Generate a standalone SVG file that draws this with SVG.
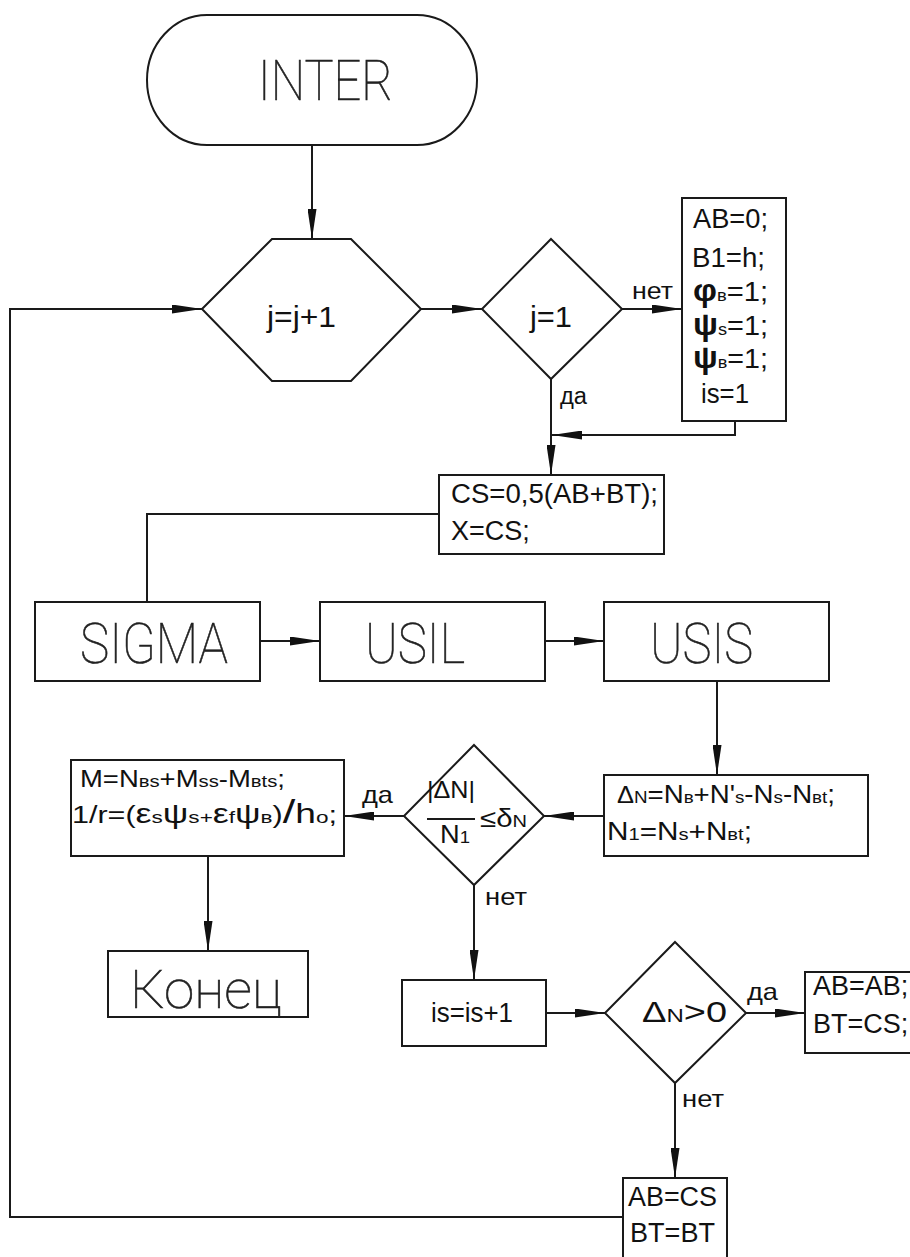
<svg xmlns="http://www.w3.org/2000/svg" width="910" height="1257" viewBox="0 0 910 1257">
  <defs>
    <marker id="arrow" markerUnits="userSpaceOnUse" markerWidth="30" markerHeight="9" refX="30" refY="4.5" orient="auto">
      <path d="M0,0 L30,4.5 L0,9 z" fill="#111"/>
    </marker>
    <style>
      .shape { fill: #fff; stroke: #1a1a1a; stroke-width: 2; }
      .line { fill: none; stroke: #1a1a1a; stroke-width: 2; }
      .arrow { fill: none; stroke: #1a1a1a; stroke-width: 2; marker-end: url(#arrow); }
      .cad { font-family: Roboto, "DejaVu Sans", sans-serif; font-weight: 100; fill: #222; stroke: #222; stroke-width: 0.6; }
      .txt { font-family: "Liberation Sans", Arial, sans-serif; fill: #111; }
      .sub { font-size: 17px; }
    </style>
  </defs>

  <rect width="910" height="1257" fill="#fff"/>

  <!-- connectors -->
  <g id="connectors">
    <path class="arrow" d="M312,145 V239"/>
    <path class="arrow" d="M421,309 H482"/>
    <path class="arrow" d="M622,309 H682"/>
    <path class="arrow" d="M551,379 V475"/>
    <path class="arrow" d="M735,421 V435 H552"/>
    <path class="line" d="M439,514 H147 V602"/>
    <path class="arrow" d="M260,641 H320"/>
    <path class="arrow" d="M545,641 H604"/>
    <path class="arrow" d="M717,681 V775"/>
    <path class="arrow" d="M604,816 H544"/>
    <path class="arrow" d="M404,816 H344"/>
    <path class="arrow" d="M208,856 V951"/>
    <path class="arrow" d="M474,885 V980"/>
    <path class="arrow" d="M546,1013 H605"/>
    <path class="arrow" d="M746,1013 H805"/>
    <path class="arrow" d="M675,1083 V1178"/>
    <path class="arrow" d="M623,1217 H10 V309 H202"/>

    <text class="txt" x="632" y="299" font-size="23" textLength="41" lengthAdjust="spacingAndGlyphs">нет</text>
    <text class="txt" x="560" y="404" font-size="23" textLength="27" lengthAdjust="spacingAndGlyphs">да</text>
    <text class="txt" x="362" y="803" font-size="24" textLength="31" lengthAdjust="spacingAndGlyphs">да</text>
    <text class="txt" x="485" y="905" font-size="23" textLength="42" lengthAdjust="spacingAndGlyphs">нет</text>
    <text class="txt" x="747" y="1000" font-size="24" textLength="31" lengthAdjust="spacingAndGlyphs">да</text>
    <text class="txt" x="682" y="1107" font-size="23" textLength="42" lengthAdjust="spacingAndGlyphs">нет</text>
  </g>

  <!-- start terminal -->
  <g id="inter">
    <rect class="shape" x="147" y="15" width="330" height="130" rx="60" ry="65"/>
    <text class="cad" x="258" y="100" font-size="56" textLength="135" lengthAdjust="spacingAndGlyphs">INTER</text>
  </g>

  <!-- loop counter -->
  <g id="loop-j">
    <polygon class="shape" points="202,309 272,239 351,239 421,309 351,381 272,381"/>
    <text class="txt" x="267" y="327" font-size="30" textLength="69" lengthAdjust="spacingAndGlyphs">j=j+1</text>
  </g>

  <g id="check-j">
    <polygon class="shape" points="551,239 622,309 551,379 482,309"/>
    <text class="txt" x="530" y="327" font-size="30" textLength="42" lengthAdjust="spacingAndGlyphs">j=1</text>
  </g>

  <g id="init">
    <rect class="shape" x="682" y="198" width="104" height="223"/>
    <text class="txt" x="693" y="228" font-size="27" textLength="75" lengthAdjust="spacingAndGlyphs">AB=0;</text>
    <text class="txt" x="692" y="267" font-size="27" textLength="73" lengthAdjust="spacingAndGlyphs">B1=h;</text>
    <text class="txt" x="693" y="301" font-size="27" textLength="75" lengthAdjust="spacingAndGlyphs"><tspan font-size="31" font-weight="bold">φ</tspan><tspan class="sub">в</tspan>=1;</text>
    <text class="txt" x="693" y="335" font-size="27" textLength="75" lengthAdjust="spacingAndGlyphs"><tspan font-size="31" font-weight="bold">ψ</tspan><tspan class="sub">s</tspan>=1;</text>
    <text class="txt" x="693" y="368" font-size="27" textLength="75" lengthAdjust="spacingAndGlyphs"><tspan font-size="31" font-weight="bold">ψ</tspan><tspan class="sub">в</tspan>=1;</text>
    <text class="txt" x="701" y="403" font-size="27" textLength="48" lengthAdjust="spacingAndGlyphs">is=1</text>
  </g>

  <g id="mid">
    <rect class="shape" x="439" y="475" width="225" height="79"/>
    <text class="txt" x="451" y="503" font-size="27" textLength="207" lengthAdjust="spacingAndGlyphs">CS=0,5(AB+BT);</text>
    <text class="txt" x="451" y="540" font-size="27">X=CS;</text>
  </g>

  <g id="sigma">
    <rect class="shape" x="35" y="602" width="225" height="79"/>
    <text class="cad" x="80" y="663" font-size="56" textLength="148" lengthAdjust="spacingAndGlyphs">SIGMA</text>
  </g>

  <g id="usil">
    <rect class="shape" x="320" y="602" width="225" height="79"/>
    <text class="cad" x="365" y="663" font-size="56" textLength="100" lengthAdjust="spacingAndGlyphs">USIL</text>
  </g>

  <g id="usis">
    <rect class="shape" x="604" y="602" width="225" height="79"/>
    <text class="cad" x="650" y="663" font-size="56" textLength="103" lengthAdjust="spacingAndGlyphs">USIS</text>
  </g>

  <g id="delta-n">
    <rect class="shape" x="604" y="775" width="264" height="81"/>
    <text class="txt" x="617" y="803" font-size="25" textLength="218" lengthAdjust="spacingAndGlyphs"><tspan font-size="23">Δ</tspan><tspan class="sub">N</tspan>=N<tspan class="sub">в</tspan>+N'<tspan class="sub">s</tspan>-N<tspan class="sub">s</tspan>-N<tspan class="sub">вt</tspan>;</text>
    <text class="txt" x="607" y="840" font-size="25" textLength="145" lengthAdjust="spacingAndGlyphs">N<tspan class="sub">1</tspan>=N<tspan class="sub">s</tspan>+N<tspan class="sub">вt</tspan>;</text>
  </g>

  <g id="check-n">
    <polygon class="shape" points="474,745 544,816 474,885 404,816"/>
    <text class="txt" x="427" y="798" font-size="24" textLength="48" lengthAdjust="spacingAndGlyphs">|ΔN|</text>
    <line class="line" x1="427" y1="819" x2="475" y2="819"/>
    <text class="txt" x="440" y="843" font-size="25" textLength="30" lengthAdjust="spacingAndGlyphs">N<tspan class="sub">1</tspan></text>
    <text class="txt" x="480" y="827" font-size="25" textLength="47" lengthAdjust="spacingAndGlyphs">≤δ<tspan class="sub">N</tspan></text>
  </g>

  <g id="result">
    <rect class="shape" x="71" y="760" width="273" height="96"/>
    <text class="txt" x="80" y="787" font-size="23" textLength="205" lengthAdjust="spacingAndGlyphs">M=N<tspan class="sub">вs</tspan>+M<tspan class="sub">ss</tspan>-M<tspan class="sub">вts</tspan>;</text>
    <text class="txt" x="72" y="823" font-size="23" textLength="265" lengthAdjust="spacingAndGlyphs">1/r=(<tspan font-size="27">ε</tspan><tspan class="sub">s</tspan><tspan font-size="27">ψ</tspan><tspan class="sub">s+</tspan><tspan font-size="27">ε</tspan><tspan class="sub">f</tspan><tspan font-size="27">ψ</tspan><tspan class="sub">в</tspan>)<tspan font-size="34">/</tspan><tspan font-size="28">h</tspan><tspan class="sub">o</tspan>;</text>
  </g>

  <g id="end">
    <rect class="shape" x="108" y="951" width="200" height="66"/>
    <text class="cad" x="130" y="1008" font-size="54" textLength="152" lengthAdjust="spacingAndGlyphs">Конец</text>
  </g>

  <g id="step-is">
    <rect class="shape" x="402" y="980" width="144" height="66"/>
    <text class="txt" x="431" y="1022" font-size="27" textLength="82" lengthAdjust="spacingAndGlyphs">is=is+1</text>
  </g>

  <g id="sign-n">
    <polygon class="shape" points="675,942 746,1013 675,1083 605,1013"/>
    <text class="txt" x="642" y="1022" font-size="30" textLength="85" lengthAdjust="spacingAndGlyphs"><tspan font-size="29">Δ</tspan><tspan font-size="19">N</tspan>&gt;0</text>
  </g>

  <g id="upper-half">
    <rect class="shape" x="805" y="972" width="110" height="81"/>
    <text class="txt" x="813" y="995" font-size="27">AB=AB;</text>
    <text class="txt" x="813" y="1033" font-size="27">BT=CS;</text>
  </g>

  <g id="lower-half">
    <rect class="shape" x="623" y="1178" width="104" height="90"/>
    <text class="txt" x="628" y="1206" font-size="27" textLength="89" lengthAdjust="spacingAndGlyphs">AB=CS</text>
    <text class="txt" x="630" y="1242" font-size="27" textLength="85" lengthAdjust="spacingAndGlyphs">BT=BT</text>
  </g>
</svg>
